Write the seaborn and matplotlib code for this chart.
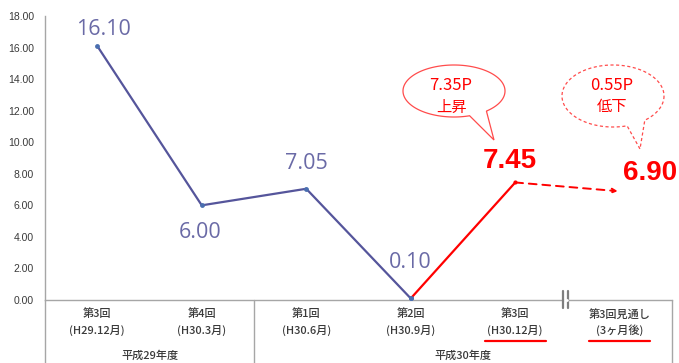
import numpy as np
import pandas as pd
import seaborn as sns
import matplotlib.pyplot as plt
from matplotlib.path import Path
from matplotlib.patches import PathPatch
from matplotlib.lines import Line2D
import matplotlib.transforms as mtrans

sns.set_theme(style="white")
plt.rcParams['font.family'] = ['Noto Sans CJK JP', 'DejaVu Sans']

# Survey rounds and their values
rounds = ["第3回", "第4回", "第1回", "第2回", "第3回", "第3回見通し"]
periods = ["(H29.12月)", "(H30.3月)", "(H30.6月)", "(H30.9月)", "(H30.12月)", "(3ヶ月後)"]
values = [16.10, 6.00, 7.05, 0.10, 7.45, 6.90]
fiscal_years = ["平成29年度", "平成30年度"]
fy_spans = [(0, 1), (2, 5)]
yticks = [0, 2, 4, 6, 8, 10, 12, 14, 16, 18]
callouts = [("7.35P", "上昇"), ("0.55P", "低下")]

W, H = 679, 363
fig = plt.figure(figsize=(W / 100, H / 100), dpi=100)
ax = fig.add_axes([45 / W, (H - 300) / H, (672 - 45) / W, (300 - 16) / H])

PURPLE = "#55559b"
PURPLE_TXT = "#6a6aa6"
RED = "#ff0000"
GRAY = "#a6a6a6"
TXT = "#3a3a3a"

df = pd.DataFrame({"x": np.arange(len(values)), "v": values})
hist = df.iloc[:4]
rise = df.iloc[3:5]
outlook = df.iloc[4:6]

sns.lineplot(data=hist, x="x", y="v", ax=ax, color=PURPLE, lw=1.6,
             marker="o", markersize=3.5, markeredgewidth=0, markerfacecolor="#4a6fb0")
sns.lineplot(data=rise, x="x", y="v", ax=ax, color=RED, lw=1.6)
ax.plot(rise["x"].iloc[-1], rise["v"].iloc[-1], "o", color=RED, ms=3, mew=0)
ax.plot(hist["x"].iloc[-1], hist["v"].iloc[-1], "o", color="#4a6fb0", ms=3.5, mew=0, zorder=5)
ax.annotate("", xy=(outlook["x"].iloc[1] - 0.02, outlook["v"].iloc[1]),
            xytext=(outlook["x"].iloc[0], outlook["v"].iloc[0]),
            arrowprops=dict(arrowstyle="-|>", color=RED, lw=1.4, ls=(0, (4, 3)),
                            mutation_scale=7, shrinkA=0, shrinkB=0))

ax.set_xlim(-0.5, 5.5)
ax.set_ylim(0, 18)
ax.set_yticks(yticks)
ax.set_yticklabels([f"{t:.2f}" for t in yticks], fontsize=7.5, color=TXT,
                   family=['Liberation Sans', 'DejaVu Sans'])
ax.tick_params(axis="y", length=0, pad=8)
ax.set_xticks([])
ax.set_xlabel("")
ax.set_ylabel("")
for s in ["top", "right"]:
    ax.spines[s].set_visible(False)
for s in ["left", "bottom"]:
    ax.spines[s].set_color(GRAY)
    ax.spines[s].set_linewidth(1.0)
ax.spines["bottom"].set_zorder(0)

# Value labels
offsets = [(6, 16), (-2, -27), (0, 25), (0, 36)]
for (i, v), (dx, dy) in zip(enumerate(values[:4]), offsets):
    ax.annotate(f"{v:.2f}", (i, v), xytext=(dx, dy), textcoords="offset pixels",
                ha="center", va="center", fontsize=15.5, color=PURPLE_TXT,
                family=['Open Sans', 'DejaVu Sans'])
ax.annotate(f"{values[4]:.2f}", (4, values[4]), xytext=(-5, 21), textcoords="offset pixels",
            ha="center", va="center", fontsize=20, color=RED, fontweight="bold",
            family=['Liberation Sans', 'DejaVu Sans'])
ax.annotate(f"{values[5]:.2f}", (5, values[5]), xytext=(30, 18), textcoords="offset pixels",
            ha="center", va="center", fontsize=20, color=RED, fontweight="bold",
            family=['Liberation Sans', 'DejaVu Sans'])

# Category labels beneath the axis
trans = mtrans.blended_transform_factory(ax.transData, fig.transFigure)
for i, (r, p) in enumerate(zip(rounds, periods)):
    fig.text(0, 0, r, transform=trans, fontsize=8, color=TXT, ha="center", va="center",
             position=(i, (H - 314) / H), fontweight="medium")
    fig.text(0, 0, p, transform=trans, fontsize=8, color=TXT, ha="center", va="center",
             position=(i, (H - 330) / H), fontweight="medium")
for i in (4, 5):
    fig.add_artist(Line2D([i - 0.29, i + 0.29], [(H - 341) / H] * 2, transform=trans,
                          color=RED, lw=1.6))
for name, (a, b) in zip(fiscal_years, fy_spans):
    fig.text(0, 0, name, transform=trans, fontsize=8, color=TXT, ha="center",
             va="center", position=((a + b) / 2, (H - 356) / H), fontweight="medium")

# Group separators below the axis
for xv in (-0.5, 1.5, 5.5):
    fig.add_artist(Line2D([xv, xv], [0, (H - 300) / H], transform=trans, color=GRAY, lw=1.0))

# Axis break mark
for xb in (563, 568):
    fig.add_artist(Line2D([xb / W] * 2, [(H - 308) / H, (H - 291) / H],
                          transform=fig.transFigure, color="#7f7f7f", lw=1.6))
fig.add_artist(Line2D([564.5 / W, 566.5 / W], [(H - 300) / H] * 2,
                      transform=fig.transFigure, color="white", lw=2))


def bubble(cx, cy, a, b, base1, base2, tip, ls):
    """Speech bubble in pixel coordinates (y downward)."""
    t = np.linspace(0, 2 * np.pi, 400)
    ex = cx + a * np.cos(t)
    ey = cy + b * np.sin(t)
    ang = lambda p: np.arctan2((p[1] - cy) / b, (p[0] - cx) / a) % (2 * np.pi)
    t1, t2 = sorted([ang(base1), ang(base2)])
    keep = (t < t1) | (t > t2)
    pts = []
    for k in range(len(t)):
        if keep[k]:
            pts.append((ex[k], ey[k]))
        elif k > 0 and keep[k - 1]:
            pts.append(tip)
    verts = [(x / W, (H - y) / H) for x, y in pts]
    verts.append(verts[0])
    codes = [Path.MOVETO] + [Path.LINETO] * (len(verts) - 2) + [Path.CLOSEPOLY]
    patch = PathPatch(Path(verts, codes), transform=fig.transFigure, facecolor="white",
                      edgecolor=(1, 0, 0, 0.7), lw=0.9, ls=ls, zorder=3)
    fig.add_artist(patch)


bubble(454, 91, 51, 26, (470, 115.5), (487, 112), (494, 140), "-")
bubble(613, 96, 51, 31, (628, 126), (645, 121), (640, 149), (0, (2.5, 2)))

for (l1, l2), (cx, cy) in zip(callouts, [(451, 86), (612, 86)]):
    fig.text(cx / W, (H - cy) / H, l1, fontsize=12, color=RED, ha="center", va="center",
             zorder=4)
    fig.text(cx / W, (H - cy - 21) / H, l2, fontsize=11, color=RED, ha="center", va="center",
             zorder=4)

fig.savefig("out.png", dpi=100)
